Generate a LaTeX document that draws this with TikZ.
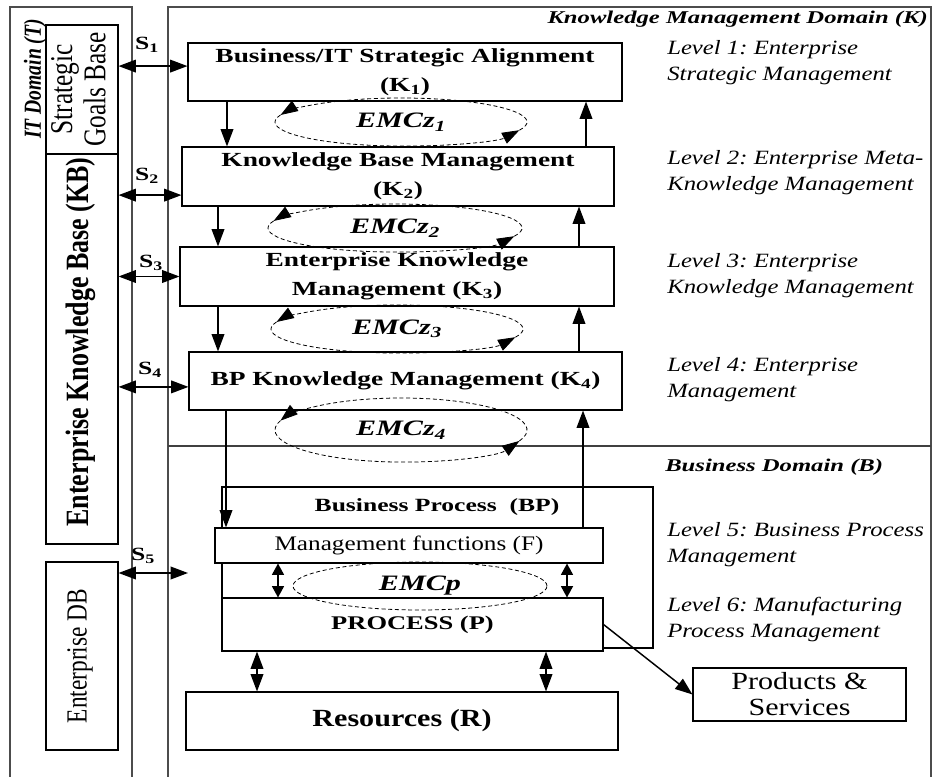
\documentclass[tikz,border=0pt]{standalone}
\usepackage{fontspec}
\setmainfont{Liberation Serif}
\newfontfamily\widerm{Liberation Serif}[FakeStretch=1.22]
\newfontfamily\widebf{Liberation Serif}[FakeStretch=1.37]
\usetikzlibrary{arrows.meta,calc,shapes.geometric}
\newcommand\emcarcs[3]{%
  \draw[emc,-{Triangle[length=13pt,width=9pt]}] ($(#1)+({#2*cos(20)},{#3*sin(20)})$) arc[start angle=20,end angle=-163,x radius=#2,y radius=#3];
  \draw[emc,-{Triangle[length=13pt,width=9pt]}] ($(#1)+({#2*cos(-163)},{#3*sin(-163)})$) arc[start angle=-163,end angle=-340,x radius=#2,y radius=#3];}
\frenchspacing
\begin{document}
\begin{tikzpicture}[x=0.75pt,y=-0.75pt,
  box/.style={draw=black, line width=0.8pt, fill=white, inner sep=0pt},
  arr/.style={line width=1.1pt, -{Triangle[length=13pt,width=9.5pt]}},
  dbl/.style={line width=1.1pt, {Triangle[length=13pt,width=9.5pt]}-{Triangle[length=13pt,width=9.5pt]}},
  sdbl/.style={line width=1.1pt, {Triangle[length=8.5pt,width=9pt]}-{Triangle[length=8.5pt,width=9pt]}},
  dom/.style={draw=black!70, line width=1.1pt},
  emc/.style={dash pattern=on 3pt off 2pt, line width=0.6pt},
  kfont/.style={font=\widebf\bfseries\fontsize{15}{21.5}\selectfont},
  lvl/.style={anchor=west, align=left, inner sep=0pt, font=\widerm\itshape\fontsize{15.2}{19.5}\selectfont},
  slab/.style={font=\widebf\bfseries\fontsize{14}{16}\selectfont, inner sep=0pt},
  emcl/.style={font=\widebf\bfseries\itshape\fontsize{16.5}{18}\selectfont, inner sep=0pt},
  rot/.style={rotate=90, inner sep=0pt, align=center}
]
\useasboundingbox (0,0) rectangle (932,777);
% domains
\draw[dom] (10,777) -- (10,7) -- (132,7) -- (132,777);
\draw[dom] (168,777) -- (168,7) -- (931,7) -- (931,777);
\draw[draw=black!75, line width=1.8pt] (168,446) -- (931,446);
\node[font=\widebf\bfseries\itshape\fontsize{13.5}{16}\selectfont, anchor=east, inner sep=0pt] (ktitle) at (928,19) {Knowledge Management Domain (K)};
\node[font=\widebf\bfseries\itshape\fontsize{13.5}{16}\selectfont, anchor=west, inner sep=0pt] (btitle) at (665,467) {Business Domain (B)};
\node[rot, font=\bfseries\itshape\fontsize{14.7}{16}\selectfont] (ittitle) at (35,79) {\scalebox{1}[1.25]{IT Domain (T)}};
% left boxes
\node[box, minimum width=54pt, minimum height=96.75pt] (sgb) at (82,89.5) {};
\node[rot, font=\fontsize{19}{20}\selectfont] (sgbt) at (82,89.5) {\scalebox{1}[1.25]{\begin{tabular}{@{}c@{}}Strategic\\Goals Base\end{tabular}}};
\node[box, minimum width=54pt, minimum height=292.5pt] (kb) at (82,349) {};
\node[rot, font=\bfseries\fontsize{19.5}{20}\selectfont] (kbt) at (81,342) {\scalebox{1}[1.25]{Enterprise Knowledge Base (KB)}};
\node[box, minimum width=54pt, minimum height=141pt] (edb) at (82,656) {};
\node[rot, font=\fontsize{17.5}{20}\selectfont] (edbt) at (80,656) {\scalebox{1}[1.25]{Enterprise DB}};
% K boxes
\node[box, kfont, align=center, minimum width=325.5pt, minimum height=43.5pt] (k1) at (405,72) {Business/IT Strategic Alignment\\(K\textsubscript{1})};
\node[box, kfont, align=center, minimum width=324pt, minimum height=44.25pt] (k2) at (398,176.5) {Knowledge Base Management\\(K\textsubscript{2})};
\node[box, kfont, align=center, minimum width=325.5pt, minimum height=44.25pt] (k3) at (397,276.5) {Enterprise Knowledge\\Management (K\textsubscript{3})};
\node[box, kfont, align=center, minimum width=324.75pt, minimum height=43.5pt] (k4) at (405.5,381) {BP Knowledge Management (K\textsubscript{4})};
% business
\node[box, minimum width=323.25pt, minimum height=120.75pt] (bp) at (437.5,567.5) {};
\node[font=\widebf\bfseries\fontsize{14}{16}\selectfont, inner sep=0pt] (bpt) at (437,507) {Business Process\ \ (BP)};
\node[box, font=\widerm\fontsize{15.5}{17}\selectfont, minimum width=291pt, minimum height=26.25pt] (f) at (409,545.5) {Management functions (F)};
\node[box, font=\widebf\bfseries\fontsize{14.5}{16}\selectfont, minimum width=285.75pt, minimum height=39.75pt] (p) at (412.5,624.5) {PROCESS (P)};
\node[box, font=\widerm\bfseries\fontsize{18.5}{20}\selectfont, minimum width=324pt, minimum height=43.5pt] (r) at (402,721) {Resources (R)};
\node[box, font=\widerm\fontsize{18.5}{19.5}\selectfont, align=center, minimum width=159.75pt, minimum height=39.75pt] (prod) at (799.5,694.5) {Products \&\\Services};
% level texts
\node[lvl] (l1) at (667,63) {Level 1: Enterprise\\Strategic Management};
\node[lvl] (l2) at (667,173) {Level 2: Enterprise Meta-\\Knowledge Management};
\node[lvl] (l3) at (667,275.5) {Level 3: Enterprise\\Knowledge Management};
\node[lvl] (l4) at (667,379.5) {Level 4: Enterprise\\Management};
\node[lvl] (l5) at (667,545) {Level 5: Business Process\\Management};
\node[lvl] (l6) at (667,620) {Level 6: Manufacturing\\Process Management};
% S links
\node[slab] (s1) at (147,45) {S\textsubscript{1}};
\node[slab] (s2) at (147,176) {S\textsubscript{2}};
\node[slab] (s3) at (151,263) {S\textsubscript{3}};
\node[slab] (s4) at (150,370) {S\textsubscript{4}};
\node[slab] (s5) at (143,556) {S\textsubscript{5}};
\coordinate (s1r) at ($(k1.north west)!0.4!(k1.south west)$);
\coordinate (s2r) at ($(k2.north west)!0.81!(k2.south west)$);
\coordinate (s4r) at ($(k4.north west)!0.6!(k4.south west)$);
\coordinate (s5r) at (188,573);
\draw[dbl] (sgb.east |- s1r) -- (s1r);
\draw[dbl] (kb.east |- s2r) -- (s2r);
\draw[dbl] (kb.east |- k3.west) -- (k3.west);
\draw[dbl] (kb.east |- s4r) -- (s4r);
\draw[dbl] (edb.east |- s5r) -- (s5r);
% vertical connectors
\coordinate (xa) at (227,0);
\coordinate (xb) at (218,0);
\coordinate (xc) at (226,0);
\coordinate (xu1) at (586,0);
\coordinate (xu2) at (579,0);
\coordinate (xu3) at (583,0);
\coordinate (xf1) at (278,0);
\coordinate (xf2) at (567,0);
\coordinate (xr1) at (257,0);
\coordinate (xr2) at (546,0);
\draw[arr] (k1.south -| xa) -- (k2.north -| xa);
\draw[arr] (k2.south -| xb) -- (k3.north -| xb);
\draw[arr] (k3.south -| xb) -- (k4.north -| xb);
\draw[arr] (k4.south -| xc) -- (f.north -| xc);
\draw[arr] (k2.north -| xu1) -- (k1.south -| xu1);
\draw[arr] (k3.north -| xu2) -- (k2.south -| xu2);
\draw[arr] (k4.north -| xu2) -- (k3.south -| xu2);
\draw[arr] (f.north -| xu3) -- (k4.south -| xu3);
\draw[sdbl] (f.south -| xf1) -- (p.north -| xf1);
\draw[sdbl] (f.south -| xf2) -- (p.north -| xf2);
\draw[dbl] (p.south -| xr1) -- (r.north -| xr1);
\draw[dbl] (p.south -| xr2) -- (r.north -| xr2);
\draw[arr] (p.east) -- (prod.west);
% EMC cycles
\node[emcl] (e1) at (401,122) {EMCz\textsubscript{1}};
\node[emcl] (e2) at (395,228) {EMCz\textsubscript{2}};
\node[emcl] (e3) at (397,329) {EMCz\textsubscript{3}};
\node[emcl] (e4) at (401,430) {EMCz\textsubscript{4}};
\emcarcs{e1}{126}{24}
\emcarcs{e2}{127}{24}
\emcarcs{e3}{126}{24}
\emcarcs{e4}{126}{32}
\node[emcl, ellipse, draw, emc, minimum width=190.5pt, minimum height=36pt] (ep) at (420,586) {EMCp};
\end{tikzpicture}
\end{document}
